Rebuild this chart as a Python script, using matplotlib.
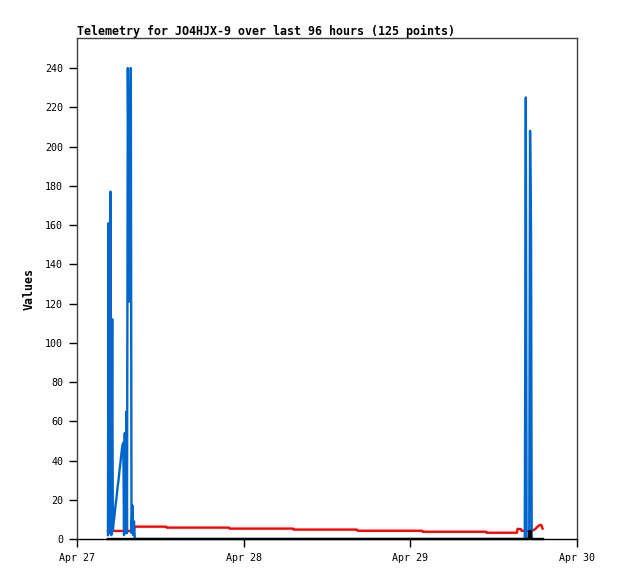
import pandas as pd
import matplotlib.pyplot as plt
import matplotlib.dates as mdates

start = pd.Timestamp('2024-04-27 00:00')

# hours since Apr 27 00:00 and channel values
blue_hours = [4.46, 4.54, 4.65, 4.82, 4.94, 5.07, 5.16, 5.26, 5.40, 5.54, 5.69, 5.83,
              5.98, 6.12, 6.26, 6.41, 6.55, 6.67, 6.77, 6.88, 6.98, 7.10, 7.20, 7.32,
              7.53, 7.75, 7.85, 7.99, 8.09, 8.21, 8.32, 64.48, 64.63, 64.74, 65.12,
              65.24, 65.38, 65.48]
blue_vals = [2, 161, 3, 177, 2, 112, 4, 8, 12, 17, 21, 26,
             30, 35, 39, 44, 48, 49, 2, 54, 3, 65, 3, 240,
             121, 240, 3, 17, 2, 9, 0, 0, 225, 0, 0,
             208, 158, 0]

red_hours = [4.46, 8.21, 8.28, 12.82, 12.89, 21.89, 21.96, 31.11, 31.18, 40.32, 40.39,
             49.68, 49.75, 58.90, 58.97, 63.36, 63.44, 63.94, 64.01, 65.09, 65.52,
             65.96, 66.39, 66.68, 66.89, 67.04]
red_vals = [4.1, 4.1, 6.3, 6.3, 5.8, 5.8, 5.3, 5.3, 4.8, 4.8, 4.2,
            4.2, 3.7, 3.7, 3.2, 3.2, 5.2, 5.0, 4.2, 4.0, 4.1,
            5.0, 6.5, 7.2, 7.0, 5.3]

black_hours = [4.46, 65.09, 65.13, 65.33, 65.38, 67.10]
black_vals = [0, 0, 4, 4, 0, 0]

def to_time(hours):
    return start + pd.to_timedelta(hours, unit='h')

mono = 'DejaVu Sans Mono'

fig = plt.figure(figsize=(6.18, 5.79), dpi=100)
ax = fig.add_axes([77/618, 1 - 539/579, 500/618, 501/579])

ax.plot(to_time(red_hours), red_vals, color='#ff0000', lw=1.7, zorder=2)
ax.plot(to_time(blue_hours), blue_vals, color='#0066cc', lw=1.7, zorder=3)
ax.plot(to_time(black_hours), black_vals, color='#000000', lw=1.7, zorder=4, clip_on=False)

ax.set_xlim(start, start + pd.Timedelta(days=3))
ax.set_ylim(0, 255.3)
ax.set_yticks(range(0, 241, 20))
ax.xaxis.set_major_locator(mdates.DayLocator())
ax.xaxis.set_major_formatter(mdates.DateFormatter('%b %d'))

ax.tick_params(direction='out', length=6, width=1, color='black', pad=4)
for lab in ax.get_xticklabels() + ax.get_yticklabels():
    lab.set_fontfamily(mono)
    lab.set_fontsize(7.2)

for s in ax.spines.values():
    s.set_color('#404040')
    s.set_linewidth(1)
ax.spines['bottom'].set_color('black')

ax.set_title('Telemetry for JO4HJX-9 over last 96 hours (125 points)', loc='left',
             fontfamily=mono, fontweight='bold', fontsize=8.4, pad=2)
ax.set_ylabel('Values', fontfamily=mono, fontweight='bold', fontsize=8.4)
ax.yaxis.set_label_coords(-41/500, 0.5)

fig.savefig('out.png', dpi=100)
